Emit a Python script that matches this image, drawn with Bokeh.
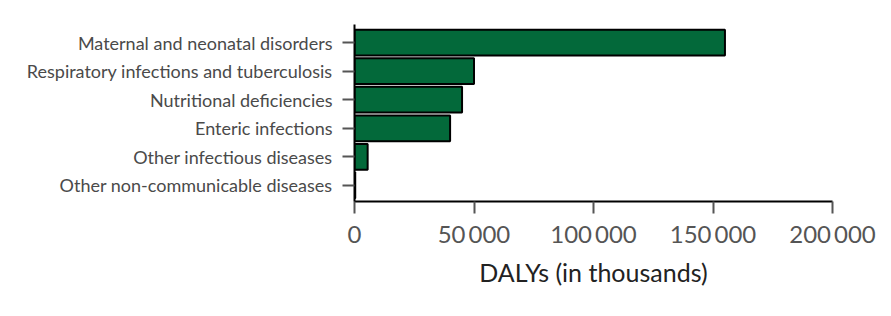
from bokeh.plotting import figure
from bokeh.models import Range1d, FixedTicker, ColumnDataSource
from bokeh.embed import file_html
from bokeh.resources import INLINE

categories = [
    "Maternal and neonatal disorders",
    "Respiratory infections and tuberculosis",
    "Nutritional deficiencies",
    "Enteric infections",
    "Other infectious diseases",
    "Other non-communicable diseases",
]
dalys = [155000, 50000, 45000, 40000, 5500, 300]
x_ticks = [0, 50000, 100000, 150000, 200000]
x_tick_labels = ["0", "50\u2009000", "100\u2009000", "150\u2009000", "200\u2009000"]

n = len(categories)
ypos = [n - 1 - i for i in range(n)]
src = ColumnDataSource(dict(y=ypos, right=dalys, cat=categories))

FONT = "Lato"

p = figure(width=891, height=316, output_backend="svg", toolbar_location=None,
           x_range=Range1d(0, 200000), y_range=Range1d(-0.56, n - 1 + 0.63),
           min_border_left=354, min_border_right=59, min_border_top=24, min_border_bottom=115)

p.hbar(y="y", left=0, right="right", height=0.9, source=src,
       fill_color="#03693a", line_color="black", line_width=2)

p.outline_line_color = None
p.grid.grid_line_color = None
p.background_fill_color = "white"

xa = p.xaxis[0]
xa.ticker = FixedTicker(ticks=x_ticks)
xa.major_label_overrides = {t: l for t, l in zip(x_ticks, x_tick_labels)}
xa.axis_label = "DALYs (in thousands)"
xa.axis_label_text_font = FONT
xa.axis_label_text_font_size = "25px"
xa.axis_label_text_font_style = "normal"
xa.axis_label_text_color = "#222222"
xa.axis_label_standoff = 6
xa.major_label_text_font = FONT
xa.major_label_text_font_size = "24px"
xa.major_label_text_color = "#555555"
xa.major_label_standoff = 5
xa.axis_line_color = "black"
xa.axis_line_width = 2
xa.major_tick_line_color = "#555555"
xa.major_tick_line_width = 2
xa.major_tick_out = 12
xa.major_tick_in = 0
xa.minor_tick_line_color = None

ya = p.yaxis[0]
ya.ticker = FixedTicker(ticks=ypos)
ya.major_label_overrides = {y: c for y, c in zip(ypos, categories)}
ya.major_label_text_font = FONT
ya.major_label_text_font_size = "18px"
ya.major_label_text_color = "#4a4a4a"
ya.major_label_standoff = 10
ya.axis_line_color = "black"
ya.axis_line_width = 2
ya.major_tick_line_color = "#555555"
ya.major_tick_line_width = 2
ya.major_tick_out = 12
ya.major_tick_in = 0
ya.minor_tick_line_color = None

open("out.html", "w").write(file_html(p, INLINE))
